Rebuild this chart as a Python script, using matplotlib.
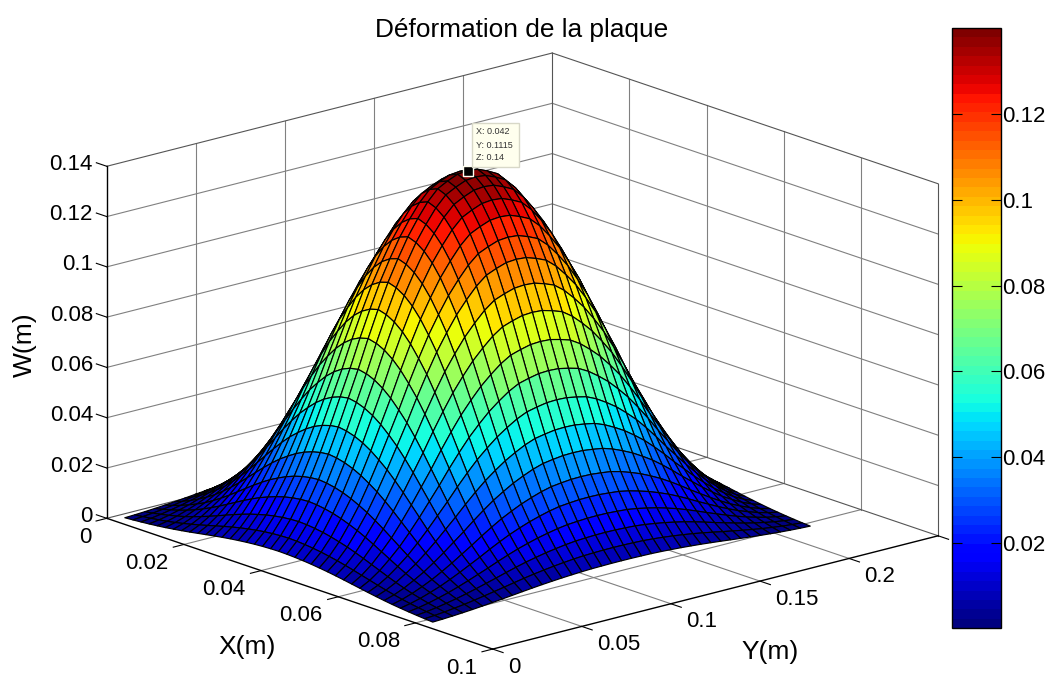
import numpy as np
import matplotlib
matplotlib.use("Agg")
import matplotlib.pyplot as plt
from matplotlib.cm import ScalarMappable
from matplotlib.colors import Normalize
from matplotlib.patches import Rectangle

plt.rcParams['font.family'] = ['Liberation Sans', 'DejaVu Sans']

W_PX, H_PX = 1050, 675

# axis limits and ticks
x_ticks = [0, 0.02, 0.04, 0.06, 0.08, 0.1]
y_ticks = [0, 0.05, 0.1, 0.15, 0.2]
z_ticks = [0, 0.02, 0.04, 0.06, 0.08, 0.1, 0.12, 0.14]
cb_ticks = [0.02, 0.04, 0.06, 0.08, 0.1, 0.12]
cb_min, cb_max = 0.0002, 0.14

# mesh nodes (m)
x_step, y_step = 0.0021, 0.005575
n_nodes = 39

# relative deflection, node 1 up to the centre node
prof_x = [0.04, 0.07, 0.105, 0.145, 0.19, 0.24, 0.30, 0.365, 0.435, 0.51,
          0.585, 0.66, 0.73, 0.795, 0.85, 0.90, 0.94, 0.97, 0.99, 1.0]
prof_y = [0.055, 0.085, 0.125, 0.175, 0.23, 0.295, 0.365, 0.44, 0.515, 0.595,
          0.67, 0.74, 0.80, 0.855, 0.90, 0.94, 0.97, 0.985, 0.997, 1.0]
w_max = 0.14

# data tip
tip_x, tip_y, tip_z = 0.042, 0.1115, 0.14


def fx(px):
    return px / W_PX


def fy(py):
    return 1 - py / H_PX


def mirror(half):
    return np.array(half + half[-2::-1])


x = x_step * np.arange(1, n_nodes + 1)
y = y_step * np.arange(1, n_nodes + 1)
X, Y = np.meshgrid(x, y, indexing='ij')
W = w_max * np.outer(mirror(prof_x), mirror(prof_y))

fig = plt.figure(figsize=(W_PX / 100, H_PX / 100), dpi=100)

# 3D axes larger than the figure so nothing gets clipped
S = 1100.0
ax = fig.add_axes([-42.4 / W_PX, -240.9 / H_PX, S / W_PX, S / H_PX],
                  projection='3d', proj_type='ortho', computed_zorder=False)
ax.set_box_aspect((589, 589, 368), zoom=884.6 / S)
ax.view_init(elev=17.07, azim=-40.9)
ax.set_xlim(0, 0.1)
ax.set_ylim(0, 0.25)
ax.set_zlim(0, 0.14)
ax.set_xticks([])
ax.set_yticks([])
ax.set_zticks([])
ax.set_axis_off()
ax.patch.set_alpha(0)

grid_c = '#808080'
box_c = '#555555'
y_end, x_end, z_end = 0.25, 0.1, 0.14

# grid on the floor and the two back walls
for v in x_ticks[1:-1]:
    ax.plot([v, v], [0, y_end], [0, 0], color=grid_c, lw=0.8, zorder=1)
    ax.plot([v, v], [y_end, y_end], [0, z_end], color=grid_c, lw=0.8, zorder=1)
for v in y_ticks[1:]:
    ax.plot([0, x_end], [v, v], [0, 0], color=grid_c, lw=0.8, zorder=1)
    ax.plot([0, 0], [v, v], [0, z_end], color=grid_c, lw=0.8, zorder=1)
for v in z_ticks[1:-1]:
    ax.plot([0, 0], [0, y_end], [v, v], color=grid_c, lw=0.8, zorder=1)
    ax.plot([0, x_end], [y_end, y_end], [v, v], color=grid_c, lw=0.8, zorder=1)

# box edges
ax.plot([0, 0], [0, y_end], [z_end, z_end], color=box_c, lw=0.8, zorder=1)
ax.plot([0, x_end], [y_end, y_end], [z_end, z_end], color=box_c, lw=0.8, zorder=1)
ax.plot([0, 0], [y_end, y_end], [0, z_end], color=box_c, lw=0.8, zorder=1)
ax.plot([x_end, x_end], [y_end, y_end], [0, z_end], color=box_c, lw=0.8, zorder=1)
ax.plot([0, 0], [0, y_end], [0, 0], color=box_c, lw=0.8, zorder=1)
ax.plot([0, x_end], [y_end, y_end], [0, 0], color=box_c, lw=0.8, zorder=1)

# the three labelled axes
ax.plot([0, 0], [0, 0], [0, z_end], color='k', lw=1.0, zorder=3)
ax.plot([0, x_end], [0, 0], [0, 0], color='k', lw=1.0, zorder=3)
ax.plot([x_end, x_end], [0, y_end], [0, 0], color='k', lw=1.0, zorder=3)

jet64 = plt.get_cmap('jet', 64)
norm = Normalize(cb_min, cb_max)
ax.plot_surface(X, Y, W, rstride=1, cstride=1, cmap=jet64, norm=norm, shade=False,
                edgecolor='k', linewidth=0.85, zorder=2)

# ticks and their labels
tick_size = 16
for v in x_ticks:
    ax.plot([v, v], [0, -0.006], [0, 0], color='k', lw=0.8, zorder=3)
    ax.text(v, -0.0087, -0.006, str(v), ha='right', va='center', fontsize=tick_size)
for v in y_ticks:
    ax.plot([x_end, x_end + 0.0027], [v, v], [0, 0], color='k', lw=0.8, zorder=3)
    ax.text(x_end + 0.0039, v, -0.0052, str(v), ha='left', va='center', fontsize=tick_size)
ax.plot([x_end, x_end + 0.0027], [y_end, y_end], [0, 0], color='k', lw=0.8, zorder=3)
for v in z_ticks:
    ax.plot([0, -0.0027], [0, 0], [v, v], color='k', lw=0.8, zorder=3)
    ax.text(-0.0036, 0, v - 0.0011, str(v), ha='right', va='center', fontsize=tick_size)

# data tip marker
ax.plot([tip_x], [tip_y], [tip_z], 's', color='k', mec='#fffff0', mew=1.0, ms=6.5, zorder=5)

fig.text(fx(521.5), fy(30), 'Déformation de la plaque', ha='center', va='center', fontsize=18.9)
fig.text(fx(247), fy(647), 'X(m)', ha='center', va='center', fontsize=19)
fig.text(fx(770), fy(652), 'Y(m)', ha='center', va='center', fontsize=19)
fig.text(fx(25), fy(344.5), 'W(m)', ha='center', va='center', rotation=90, fontsize=19)

fig.add_artist(Rectangle((fx(472), fy(167)), 47 / W_PX, 44 / H_PX, transform=fig.transFigure,
                         fc='#ffffee', ec='#d8d8c8', lw=1.0, zorder=5))
for py, s in zip([132, 145, 157], [f'X: {tip_x}', f'Y: {tip_y}', f'Z: {tip_z}']):
    fig.text(fx(476), fy(py), s, ha='left', va='center', fontsize=6.5, color='#333333', zorder=6)

# colour bar
cax = fig.add_axes([952 / W_PX, fy(628), 49 / W_PX, 600 / H_PX])
cb = fig.colorbar(ScalarMappable(norm=norm, cmap=jet64), cax=cax, ticks=cb_ticks)
cb.ax.set_yticklabels([str(v) for v in cb_ticks], fontsize=tick_size)
cb.ax.tick_params(direction='in', length=7, width=0.8, left=True, right=True, pad=1)
cb.outline.set_linewidth(1.0)

fig.savefig('out.png', dpi=100)
